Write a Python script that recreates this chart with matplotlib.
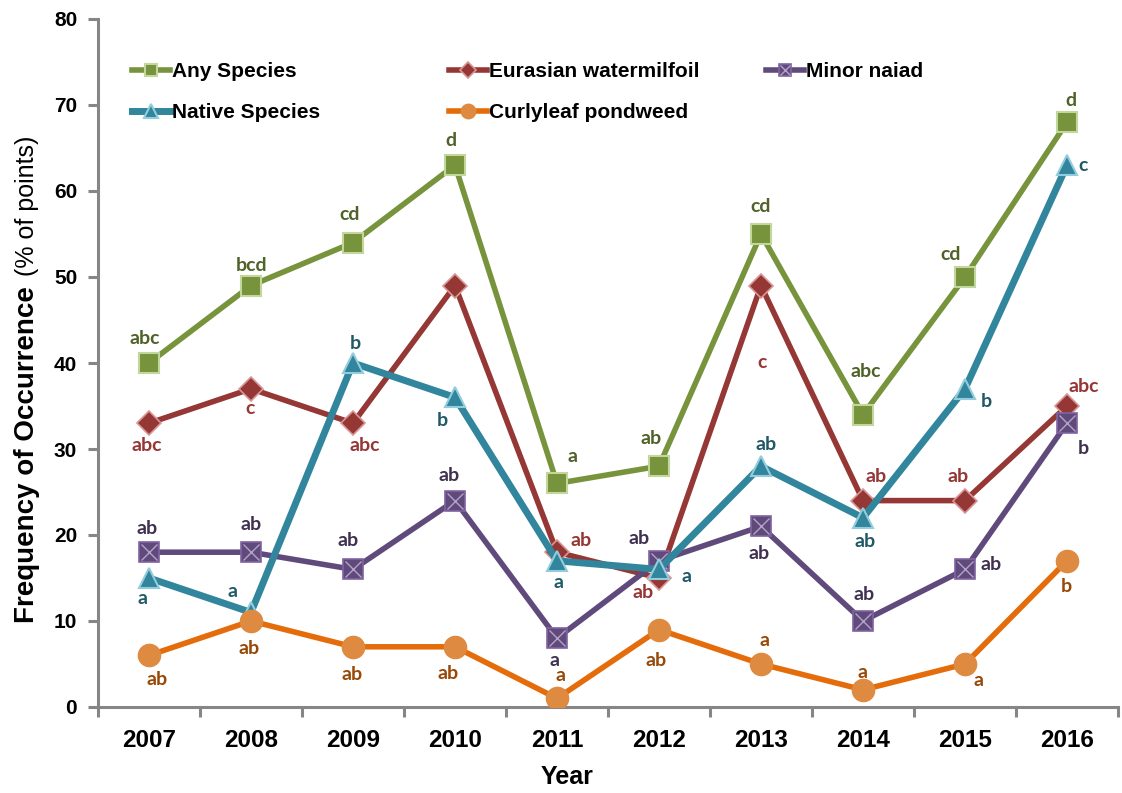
import matplotlib
matplotlib.use('Agg')
import matplotlib.pyplot as plt
from matplotlib.legend_handler import HandlerTuple

years = ['2007', '2008', '2009', '2010', '2011', '2012', '2013', '2014', '2015', '2016']

any_species = [40, 49, 54, 63, 26, 28, 55, 34, 50, 68]
milfoil = [33, 37, 33, 49, 18, 15, 49, 24, 24, 35]
naiad = [18, 18, 16, 24, 8, 17, 21, 10, 16, 33]
native = [15, 11, 40, 36, 17, 16, 28, 22, 37, 63]
curlyleaf = [6, 10, 7, 7, 1, 9, 5, 2, 5, 17]

any_letters = ['abc', 'bcd', 'cd', 'd', 'a', 'ab', 'cd', 'abc', 'cd', 'd']
milfoil_letters = ['abc', 'c', 'abc', '', 'ab', 'ab', 'c', 'ab', 'ab', 'abc']
naiad_letters = ['ab', 'ab', 'ab', 'ab', 'a', 'ab', 'ab', 'ab', 'ab', 'b']
native_letters = ['a', 'a', 'b', 'b', 'a', 'a', 'ab', 'ab', 'b', 'c']
curlyleaf_letters = ['ab', 'ab', 'ab', 'ab', 'a', 'ab', 'a', 'a', 'a', 'b']

# label offsets in pixels (dx, dy), up is positive
any_off = [(-4, 25), (1, 20), (-3, 28), (-4, 25), (16, 27), (-8, 28), (0, 27), (3, 43), (-14, 23), (4, 22)]
milfoil_off = [(-2, -22), (-1, -20), (12, -22), (0, 0), (24, 12), (-16, -15), (1, -77), (13, 24), (-7, 24), (17, 20)]
naiad_off = [(-2, 24), (0, 28), (-5, 29), (-6, 25), (-2, -22), (-20, 22), (-2, -27), (1, 27), (26, 5), (16, -25)]
native_off = [(-7, -21), (-18, 21), (2, 20), (-13, -23), (1, -22), (28, -7), (5, 22), (2, -24), (21, -13), (16, 0)]
curly_off = [(8, -24), (-2, -28), (-1, -28), (-7, -27), (3, 23), (-3, -31), (3, 24), (-1, 17), (14, -16), (-1, -26)]

plt.rcParams['font.family'] = ['Liberation Sans', 'DejaVu Sans']

fig = plt.figure(figsize=(11.22, 7.93), dpi=100)
ax = fig.add_axes([98 / 1122, 1 - 707 / 793, 1020 / 1122, 688 / 793])
x = list(range(len(years)))

green, red, purple, teal, orange = '#77933C', '#953735', '#604A7B', '#31859C', '#E46C0A'

l_any, = ax.plot(x, any_species, color=green, lw=4, marker='s', ms=14,
                 mfc=green, mec='#C3D69B', mew=1.5, zorder=2)
l_mil, = ax.plot(x, milfoil, color=red, lw=4, marker='D', ms=12,
                 mfc=red, mec='#D99694', mew=1.2, zorder=3)
l_nai, = ax.plot(x, naiad, color=purple, lw=4, marker='s', ms=14,
                 mfc=purple, mec='#8064A2', mew=1.2, zorder=4)
l_nai_x, = ax.plot(x, naiad, ls='none', marker='x', ms=11, mec='#B3A2C7', mew=1.0, zorder=4.1)
l_nat, = ax.plot(x, native, color=teal, lw=5, marker='^', ms=15,
                 mfc=teal, mec='#93CDDD', mew=1.5, zorder=5)
l_cur, = ax.plot(x, curlyleaf, color=orange, lw=4, marker='o', ms=16,
                 mfc='#DE8A40', mec='#DE8A40', zorder=6)

label_specs = [
    (any_species, any_letters, any_off, '#4F6228'),
    (milfoil, milfoil_letters, milfoil_off, '#953735'),
    (naiad, naiad_letters, naiad_off, '#403151'),
    (native, native_letters, native_off, '#215968'),
    (curlyleaf, curlyleaf_letters, curly_off, '#984807'),
]
for vals, letters, offs, col in label_specs:
    for i, (v, t) in enumerate(zip(vals, letters)):
        if not t:
            continue
        ax.annotate(t, (i, v), xytext=offs[i], textcoords='offset pixels',
                    ha='center', va='center', fontsize=14, fontweight='bold',
                    color=col, family='Lato', zorder=10)

ax.set_xlim(-0.5, 9.5)
ax.set_ylim(0, 80)
ax.set_yticks(range(0, 81, 10))
ax.set_xticks([i - 0.5 for i in range(11)])
ax.set_xticklabels([])
ax.set_xticks(x, minor=True)
ax.set_xticklabels(years, minor=True)
ax.tick_params(axis='x', which='minor', length=0, pad=16, labelsize=17.5)
ax.tick_params(axis='x', which='major', length=7, width=2.2, color='#868686', direction='out')
ax.tick_params(axis='y', length=7, width=2.2, color='#868686', direction='out', labelsize=15, pad=8)
for lab in ax.get_xticklabels(minor=True) + ax.get_yticklabels():
    lab.set_fontweight('bold')
for s in ['top', 'right']:
    ax.spines[s].set_visible(False)
for s in ['left', 'bottom']:
    ax.spines[s].set_color('#868686')
    ax.spines[s].set_linewidth(2.2)

# legend, three columns drawn as separate legends
leg_kw = dict(frameon=False, handlelength=1.8, handletextpad=0.1, labelspacing=1.08,
              markerscale=0.65, prop={'weight': 'bold', 'size': 15},
              handler_map={tuple: HandlerTuple(ndivide=1, pad=0)}, borderaxespad=0,
              borderpad=0)
cols = [([l_any, l_nat], ['Any Species', 'Native Species'], 132),
        ([l_mil, l_cur], ['Eurasian watermilfoil', 'Curlyleaf pondweed'], 449),
        ([(l_nai, l_nai_x)], ['Minor naiad'], 766)]
for handles, labels, px in cols:
    fig.legend(handles, labels, loc='upper left',
               bbox_to_anchor=(px / 1122, 1 - 62 / 793), **leg_kw)

fig.text(567 / 1122, 1 - 777 / 793, 'Year', ha='center', va='center',
         fontsize=18, fontweight='bold')

t1 = fig.text(27 / 1122, 1 - 623 / 793, 'Frequency of Occurrence', rotation=90,
              ha='center', va='bottom', fontsize=20, fontweight='bold')
fig.canvas.draw()
bb = t1.get_window_extent()
fig.text(27 / 1122, (bb.y1 + 10) / fig.bbox.height, '(% of points)', rotation=90,
         ha='center', va='bottom', fontsize=18)

fig.savefig('out.png', dpi=100)
